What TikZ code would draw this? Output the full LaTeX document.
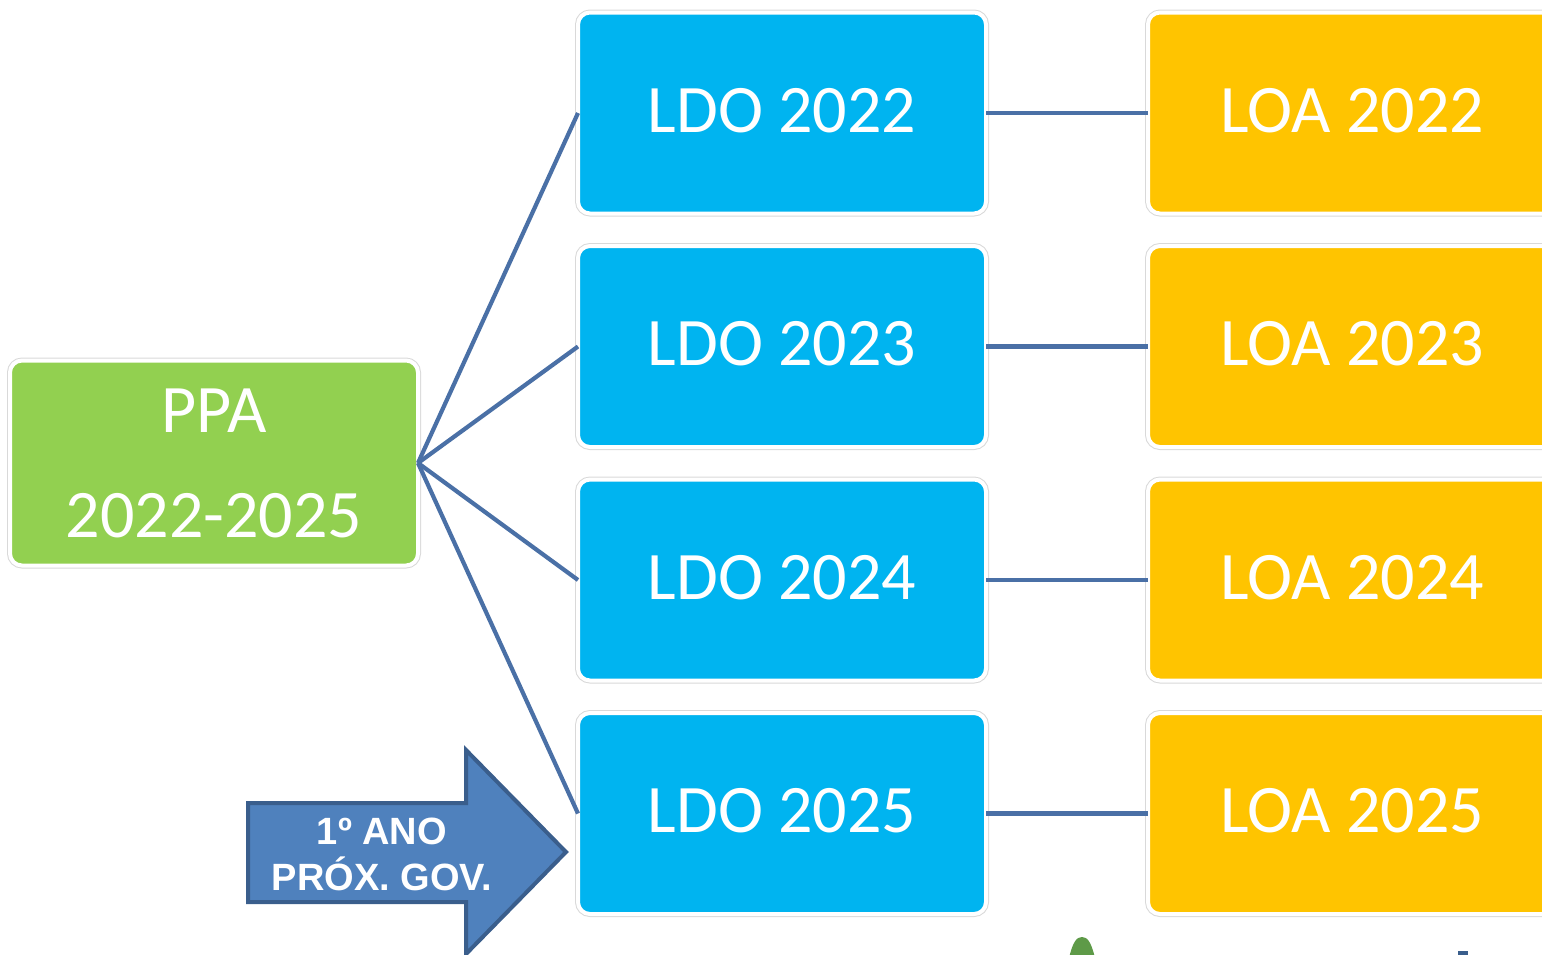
\documentclass[tikz,border=0pt]{standalone}
\usepackage{fontspec}
\setmainfont{Carlito}
\newfontfamily\arrowfont{Liberation Sans}

\definecolor{ppagreen}{HTML}{92D050}
\definecolor{ldoblue}{HTML}{00B4F0}
\definecolor{loagold}{HTML}{FFC400}
\definecolor{linkblue}{HTML}{4A70A6}
\definecolor{arrowfill}{HTML}{4F81BD}
\definecolor{arrowline}{HTML}{3A5E8C}
\definecolor{leafgreen}{HTML}{5E9A48}

\tikzset{
    yearbox/.style={rounded corners=6pt, inner sep=0pt, outer sep=0pt,
        minimum width=204pt, minimum height=100.5pt, text=white,
        font=\fontsize{34}{42}\selectfont, text depth=3pt,
        preaction={draw=black!15, line width=3pt},
        draw=white, line width=2pt},
    ldobox/.style={yearbox, fill=ldoblue},
    loabox/.style={yearbox, fill=loagold},
    link/.style={draw=linkblue, line width=2.1pt},
}

\begin{document}
\begin{tikzpicture}[x=0.5pt, y=-0.5pt]
    \useasboundingbox (0,0) rectangle (1542,954);
    \clip (0,0) rectangle (1542,954);
    \begin{scope} % Plan
        \node[yearbox, fill=ppagreen, minimum height=102.5pt, align=center,
            text depth=0pt, font=\fontsize{34}{52.5}\selectfont] (ppa) at (214,463)
            {PPA\\2022-2025};
    \end{scope}
    \begin{scope} % Yearly laws
        \foreach \yr [count=\i from 0] in {2022,2023,2024,2025} {
            \node[ldobox] (ldo\yr) at (782,{113+233.5*\i}) {LDO \yr};
            \node[loabox] (loa\yr) at (1352,{113+233.5*\i}) {LOA \yr};
            \draw[link] (ppa.east) -- (ldo\yr.west);
            \draw[link] (ldo\yr.east) -- (loa\yr.west);
        }
    \end{scope}
    \begin{scope} % Arrow to the last year
        \filldraw[fill=arrowfill, draw=arrowline, line width=2pt]
            (248,803) -- (466,803) -- (466,750) -- (566,852) --
            (466,954) -- (466,902) -- (248,902) -- cycle;
        \node[align=center, text=white,
            font=\arrowfont\bfseries\fontsize{19}{23}\selectfont]
            (nextgov) at (382,854) {1º ANO\\PRÓX. GOV.};
    \end{scope}
    \begin{scope} % Cut-off shapes at the bottom
        \fill[leafgreen] (1069,958) .. controls (1073,941) and (1077,937) ..
            (1082,937) .. controls (1087,937) and (1091,941) .. (1095,958) -- cycle;
        \fill[arrowline] (1458,951) rectangle (1468,958);
    \end{scope}
\end{tikzpicture}
\end{document}
